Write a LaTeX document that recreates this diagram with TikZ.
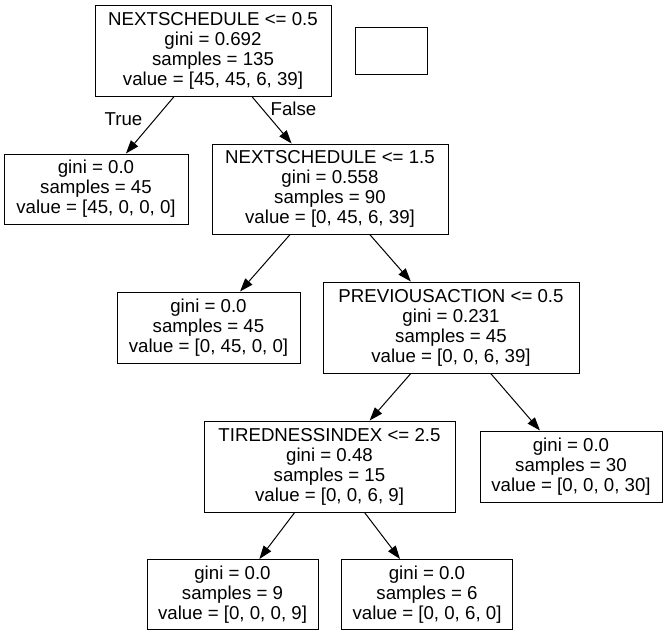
\documentclass[tikz,border=0pt]{standalone}
\usepackage{fontspec}
\setmainfont{Liberation Sans}
\usetikzlibrary{arrows.meta}
\begin{document}
\begin{tikzpicture}[x=0.75pt,y=-0.75pt,
  box/.style 2 args={draw=black, line width=0.75pt, inner sep=0pt, align=center,
    minimum width={#1*0.75pt}, minimum height={#2*0.75pt},
    font=\fontsize{14pt}{15pt}\selectfont},
  edge/.style={draw=black, line width=0.75pt, -{Triangle[length=10pt,width=7pt]}},
  lbl/.style={font=\fontsize{14pt}{15pt}\selectfont, inner sep=0pt}]
\useasboundingbox (0,0) rectangle (668,636);
\node[box={236}{91}] (root) at (213,50.5) {NEXTSCHEDULE <= 0.5\\gini = 0.692\\samples = 135\\value = [45, 45, 6, 39]};
\node[box={72}{47}] (empty) at (391,50.5) {};
\node[box={184}{70}] (leafA) at (96,189) {gini = 0.0\\samples = 45\\value = [45, 0, 0, 0]};
\node[box={236}{90}] (n4) at (330,189) {NEXTSCHEDULE <= 1.5\\gini = 0.558\\samples = 90\\value = [0, 45, 6, 39]};
\node[box={183}{71}] (leafB) at (208.5,327.5) {gini = 0.0\\samples = 45\\value = [0, 45, 0, 0]};
\node[box={256}{91}] (n6) at (451,327.5) {PREVIOUSACTION <= 0.5\\gini = 0.231\\samples = 45\\value = [0, 0, 6, 39]};
\node[box={251}{91}] (n7) at (329.5,466.5) {TIREDNESSINDEX <= 2.5\\gini = 0.48\\samples = 15\\value = [0, 0, 6, 9]};
\node[box={182}{71}] (leafC) at (571,466.5) {gini = 0.0\\samples = 30\\value = [0, 0, 0, 30]};
\node[box={171}{70}] (leafD) at (232.5,594.5) {gini = 0.0\\samples = 9\\value = [0, 0, 0, 9]};
\node[box={171}{70}] (leafE) at (427,594.5) {gini = 0.0\\samples = 6\\value = [0, 0, 6, 0]};
\draw[edge] (root) -- (leafA);
\draw[edge] (root) -- (n4);
\draw[edge] (n4) -- (leafB);
\draw[edge] (n4) -- (n6);
\draw[edge] (n6) -- (n7);
\draw[edge] (n6) -- (leafC);
\draw[edge] (n7) -- (leafD);
\draw[edge] (n7) -- (leafE);
\node[lbl] (ltrue) at (123.5,119.5) {True};
\node[lbl] (lfalse) at (293.5,109) {False};
\end{tikzpicture}
\end{document}
